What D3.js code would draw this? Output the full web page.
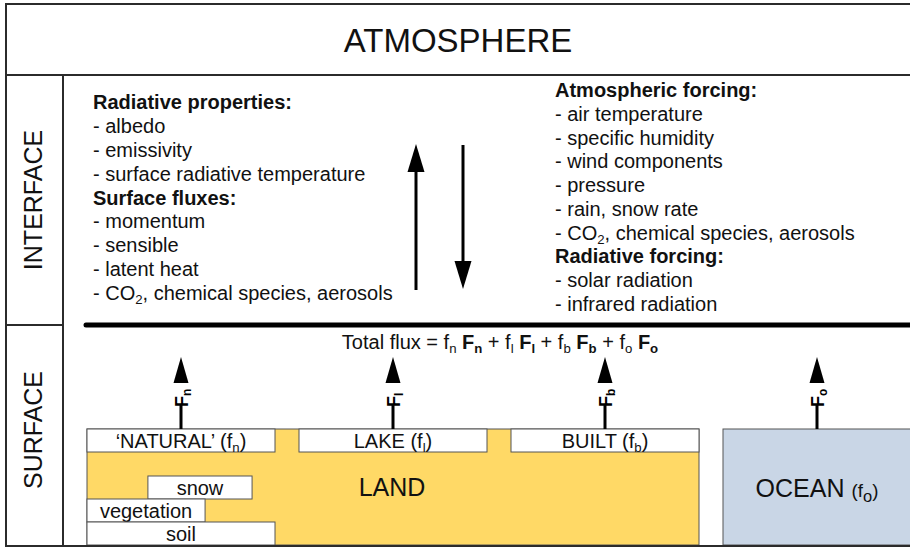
<!DOCTYPE html>
<html lang="en">
<head>
<meta charset="UTF-8">
<title>Atmosphere - interface - surface</title>
<script src="https://d3js.org/d3.v7.min.js"></script>
<style>
  body { margin: 0; background: #fff; }
  svg { display: block; font-family: "Liberation Sans", Arial, sans-serif; }
</style>
</head>
<body>
<svg id="chart" width="910" height="549"></svg>
<script>
// ---- content ----
// segment styles: "" normal, "b" bold, "sub" subscript, "bsub" bold subscript, "s" small
const leftLines = [
  [["Radiative properties:", "b"]],
  [["- albedo"]],
  [["- emissivity"]],
  [["- surface radiative temperature"]],
  [["Surface fluxes:", "b"]],
  [["- momentum"]],
  [["- sensible"]],
  [["- latent heat"]],
  [["- CO"], ["2", "sub"], [", chemical species, aerosols"]]
];

const rightLines = [
  [["Atmospheric forcing:", "b"]],
  [["- air temperature"]],
  [["- specific humidity"]],
  [["- wind components"]],
  [["- pressure"]],
  [["- rain, snow rate"]],
  [["- CO"], ["2", "sub"], [", chemical species, aerosols"]],
  [["Radiative forcing:", "b"]],
  [["- solar radiation"]],
  [["- infrared radiation"]]
];

const tiles = ["natural", "lake", "built", "ocean"];
const tileSubs = ["n", "l", "b", "o"];
const tileNames = ["\u2018NATURAL\u2019", "LAKE", "BUILT", "OCEAN"];
const layers = ["snow", "vegetation", "soil"];
// share of the natural tile each layer covers [from, to]
const layerSpan = [[0.324, 0.878], [0, 0.628], [0, 1]];

const W = 910, H = 549;
const svg = d3.select("#chart");

function rich(sel, segs, size) {
  let shift = 0;
  segs.forEach(([t, st = ""]) => {
    const sub = st.includes("sub");
    const target = sub ? size * 0.2 : 0;
    let fs = size;
    if (sub) fs = size * 0.66;
    if (st === "s") fs = size * 0.75;
    sel.append("tspan")
      .text(t)
      .attr("dy", target - shift)
      .attr("font-size", fs)
      .attr("font-weight", st.startsWith("b") ? "bold" : null);
    shift = target;
  });
  return sel;
}

// ---- scales ----
const xTile = d3.scaleBand().domain(tiles).range([87, 911]).paddingInner(24 / 212).paddingOuter(0);
const yLeft = d3.scalePoint().domain(d3.range(leftLines.length)).range([109, 300]);
const yRight = d3.scalePoint().domain(d3.range(rightLines.length)).range([97, 311]);

const frame = "#2b2b2b";

// ---- land background ----
const landX0 = xTile("natural"), landX1 = xTile("built") + xTile.bandwidth();
svg.append("rect")
  .attr("x", landX0).attr("y", 429)
  .attr("width", landX1 - landX0).attr("height", 545 - 429)
  .attr("fill", "#ffd966").attr("stroke", "#555").attr("stroke-width", 1);

// ocean
svg.append("rect")
  .attr("x", xTile("ocean")).attr("y", 429)
  .attr("width", xTile.bandwidth() + 10).attr("height", 545 - 429)
  .attr("fill", "#c9d6e6").attr("stroke", "#555").attr("stroke-width", 1);

// top tiles on land
const landTiles = tiles.slice(0, 3);
svg.append("g").selectAll("rect")
  .data(landTiles)
  .join("rect")
  .attr("x", d => xTile(d))
  .attr("y", 429)
  .attr("width", xTile.bandwidth())
  .attr("height", 23)
  .attr("fill", "#fff").attr("stroke", "#555").attr("stroke-width", 1);

svg.append("g").selectAll("text")
  .data(landTiles)
  .join("text")
  .attr("x", d => xTile(d) + xTile.bandwidth() / 2)
  .attr("y", 447.5)
  .attr("text-anchor", "middle")
  .attr("fill", "#111")
  .each(function (d, i) {
    rich(d3.select(this), [[tileNames[i] + " (f"], [tileSubs[i], "sub"], [")"]], 20);
  });

// natural sub-layers
const xNat = d3.scaleLinear().domain([0, 1]).range([xTile("natural"), xTile("natural") + xTile.bandwidth()]);
const yLayer = d3.scaleBand().domain(layers).range([476, 545]);
const lg = svg.append("g").selectAll("g")
  .data(layers)
  .join("g");
lg.append("rect")
  .attr("x", (d, i) => xNat(layerSpan[i][0]))
  .attr("y", d => yLayer(d))
  .attr("width", (d, i) => xNat(layerSpan[i][1]) - xNat(layerSpan[i][0]))
  .attr("height", yLayer.bandwidth())
  .attr("fill", "#fff").attr("stroke", "#555").attr("stroke-width", 1);
lg.append("text")
  .attr("x", (d, i) => (xNat(layerSpan[i][0]) + xNat(layerSpan[i][1])) / 2)
  .attr("y", d => yLayer(d) + yLayer.bandwidth() / 2 + 7)
  .attr("text-anchor", "middle")
  .attr("font-size", 20)
  .attr("fill", "#111")
  .text(d => d);

svg.append("text")
  .attr("x", 392).attr("y", 496)
  .attr("text-anchor", "middle").attr("font-size", 25).attr("fill", "#111")
  .text("LAND");

svg.append("text")
  .attr("x", xTile("ocean") + xTile.bandwidth() / 2).attr("y", 497)
  .attr("text-anchor", "middle").attr("fill", "#111")
  .call(s => rich(s, [["OCEAN "], ["(f", "s"], ["o", "sub"], [")", "s"]], 25));

// ---- flux arrows from tiles ----
const fa = svg.append("g").selectAll("g")
  .data(tiles)
  .join("g")
  .attr("transform", d => `translate(${xTile(d) + xTile.bandwidth() / 2},0)`);
fa.append("line")
  .attr("x1", 0).attr("x2", 0).attr("y1", 429).attr("y2", 380)
  .attr("stroke", "#000").attr("stroke-width", 3);
fa.append("rect")
  .attr("x", -8).attr("y", 383).attr("width", 16).attr("height", 22)
  .attr("fill", "#fff");
fa.append("path")
  .attr("d", "M0,357 L-7.5,383 L7.5,383 Z")
  .attr("fill", "#000");
fa.append("text")
  .attr("transform", "translate(6.5,407) rotate(-90)")
  .attr("fill", "#000")
  .each(function (d, i) {
    rich(d3.select(this), [["F", "b"], [tileSubs[i], "bsub"]], 18);
  });

// total flux formula
const totalSegs = [["Total flux = f"]];
tileSubs.forEach((s, i) => {
  if (i > 0) totalSegs.push([" + f"]);
  totalSegs.push([s, "sub"], [" "], ["F", "b"], [s, "bsub"]);
});
svg.append("text")
  .attr("x", 500).attr("y", 349)
  .attr("text-anchor", "middle").attr("fill", "#111")
  .call(s => rich(s, totalSegs, 20));

// ---- interface text ----
svg.append("g").selectAll("text")
  .data(leftLines)
  .join("text")
  .attr("x", 93)
  .attr("y", (d, i) => yLeft(i))
  .attr("fill", "#111")
  .each(function (d) { rich(d3.select(this), d, 20); });

svg.append("g").selectAll("text")
  .data(rightLines)
  .join("text")
  .attr("x", 555)
  .attr("y", (d, i) => yRight(i))
  .attr("fill", "#111")
  .each(function (d) { rich(d3.select(this), d, 20); });

// exchange arrows
svg.append("line").attr("x1", 416).attr("x2", 416).attr("y1", 290).attr("y2", 165)
  .attr("stroke", "#000").attr("stroke-width", 3);
svg.append("path").attr("d", "M416,144 L407.5,172 L424.5,172 Z").attr("fill", "#000");
svg.append("line").attr("x1", 463).attr("x2", 463).attr("y1", 145).attr("y2", 266)
  .attr("stroke", "#000").attr("stroke-width", 3);
svg.append("path").attr("d", "M463,289 L454.5,261 L471.5,261 Z").attr("fill", "#000");

// surface line
svg.append("line").attr("x1", 86).attr("x2", 912).attr("y1", 325).attr("y2", 325)
  .attr("stroke", "#000").attr("stroke-width", 5).attr("stroke-linecap", "round");

// ---- frame ----
svg.append("rect").attr("x", 6).attr("y", 4).attr("width", 930).attr("height", 542)
  .attr("fill", "none").attr("stroke", frame).attr("stroke-width", 2);
svg.append("line").attr("x1", 6).attr("x2", W).attr("y1", 75).attr("y2", 75)
  .attr("stroke", frame).attr("stroke-width", 2);
svg.append("line").attr("x1", 63).attr("x2", 63).attr("y1", 75).attr("y2", 546)
  .attr("stroke", frame).attr("stroke-width", 2);
svg.append("line").attr("x1", 6).attr("x2", 63).attr("y1", 325).attr("y2", 325)
  .attr("stroke", frame).attr("stroke-width", 2);

svg.append("text")
  .attr("x", 458).attr("y", 52)
  .attr("text-anchor", "middle").attr("font-size", 33).attr("fill", "#111")
  .text("ATMOSPHERE");

svg.selectAll(".side")
  .data([["INTERFACE", 200], ["SURFACE", 430]])
  .join("text")
  .attr("class", "side")
  .attr("transform", d => `translate(33,${d[1]}) rotate(-90)`)
  .attr("text-anchor", "middle")
  .attr("dominant-baseline", "central")
  .attr("font-size", 25)
  .attr("fill", "#111")
  .text(d => d[0]);
</script>
</body>
</html>
